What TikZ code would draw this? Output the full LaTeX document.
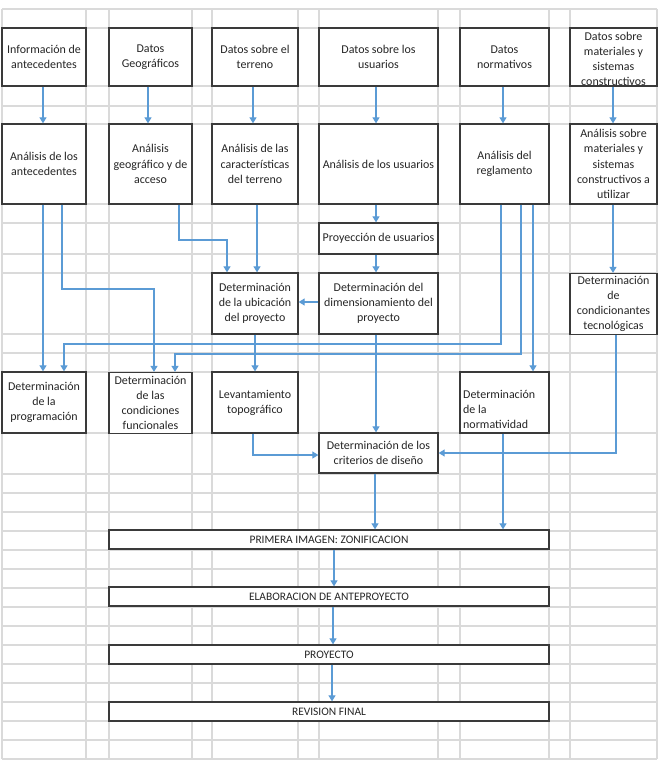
\documentclass[tikz,border=0pt]{standalone}
\usepackage{fontspec}
\setmainfont{Carlito}
\usetikzlibrary{arrows.meta}
\definecolor{gridc}{HTML}{DADADA}
\definecolor{linec}{HTML}{5B9BD5}
\definecolor{boxc}{HTML}{3A3A3A}
\definecolor{txtc}{HTML}{262626}
\begin{document}
\begin{tikzpicture}[x=1bp,y=-1bp,
  gridline/.style={draw=gridc, line width=1.1bp},
  box/.style={draw=boxc, line width=1.3bp, fill=white, inner sep=0pt, align=center, text=txtc, font=\fontsize{12}{15.2}\selectfont},
  txt/.style={inner sep=0pt, text=txtc, font=\fontsize{12}{15.2}\selectfont},
  wide/.style={box, minimum width=440bp, minimum height=19bp, font=\fontsize{11.5}{14}\selectfont},
  arr/.style={draw=linec, line width=1.2bp, -{Triangle[length=6bp,width=7bp]}}
]
\useasboundingbox (0,0) rectangle (663,768);
\fill[white] (0,0) rectangle (663,768);
% spreadsheet grid
\foreach \yy in {9,28,86,106,124,204,223,254,273,334,353,372,433,474,493,512,531,550,569,588,607,626,645,664,683,702,721,740,759}
  \draw[gridline] (2,\yy) -- (657,\yy);
\foreach \xx in {2,86,109,192,212,298,319,438,460,549,570,657}
  \draw[gridline] (\xx,9) -- (\xx,759);

% row 1
\node[box, minimum width=84bp, minimum height=58bp] (a1) at (44,57) {Información de\\antecedentes};
\node[box, minimum width=83bp, minimum height=58bp] (a2) at (150.5,57) {Datos\\Geográficos};
\node[box, minimum width=86bp, minimum height=58bp] (a3) at (255,57) {Datos sobre el\\terreno};
\node[box, minimum width=119bp, minimum height=58bp] (a4) at (378.5,57) {Datos sobre los\\usuarios};
\node[box, minimum width=89bp, minimum height=58bp] (a5) at (504.5,57) {Datos\\normativos};
\node[box, minimum width=87bp, minimum height=58bp] (a6) at (613.5,57) {};
\node[txt, align=center] (a6t) at (613.5,59) {Datos sobre\\materiales y\\sistemas\\constructivos};

% row 2
\node[box, minimum width=84bp, minimum height=80bp] (b1) at (44,164) {Análisis de los\\antecedentes};
\node[box, minimum width=83bp, minimum height=80bp] (b2) at (150.5,164) {Análisis\\geográfico y de\\acceso};
\node[box, minimum width=86bp, minimum height=80bp] (b3) at (255,164) {Análisis de las\\características\\del terreno};
\node[box, minimum width=119bp, minimum height=80bp] (b4) at (378.5,164) {Análisis de los usuarios};
\node[box, minimum width=89bp, minimum height=80bp] (b5) at (504.5,164) {Análisis del\\reglamento};
\node[box, minimum width=87bp, minimum height=80bp] (b6) at (613.5,164) {Análisis sobre\\materiales y\\sistemas\\constructivos a\\utilizar};

% middle
\node[box, minimum width=119bp, minimum height=31bp] (proy) at (378.5,238.5) {Proyección de usuarios};
\node[box, minimum width=86bp, minimum height=61bp] (ubic) at (255,303.5) {Determinación\\de la ubicación\\del proyecto};
\node[box, minimum width=119bp, minimum height=61bp] (dim) at (378.5,303.5) {Determinación del\\dimensionamiento del\\proyecto};
\node[box, minimum width=87bp, minimum height=61bp] (tec) at (613.5,304) {Determinación\\de\\condicionantes\\tecnológicas};

% row 4
\node[box, minimum width=84bp, minimum height=61bp] (prog) at (44,402.5) {Determinación\\de la\\programación};
\node[box, minimum width=83bp, minimum height=61bp] (func) at (150.5,403) {Determinación\\de las\\condiciones\\funcionales};
\node[box, minimum width=86bp, minimum height=61bp] (levant) at (255,402.5) {Levantamiento\\topográfico};
\node[box, minimum width=89bp, minimum height=61bp] (norm) at (504.5,402.5) {};
\node[txt, align=left, anchor=west] (normt) at (463,409.5) {Determinación\\de la\\normatividad};
\node[box, minimum width=119bp, minimum height=40bp] (crit) at (378.5,453) {Determinación de los\\criterios de diseño};

% bottom
\node[wide] (p1) at (329,539.5) {PRIMERA IMAGEN: ZONIFICACION};
\node[wide] (p2) at (329,596.5) {ELABORACION DE ANTEPROYECTO};
\node[wide] (p3) at (329,654.5) {PROYECTO};
\node[wide] (p4) at (329,711.5) {REVISION FINAL};

% connectors row1 -> row2
\draw[arr] (a1.south -| 43,0) -- (b1.north -| 43,0);
\draw[arr] (a2.south -| 148,0) -- (b2.north -| 148,0);
\draw[arr] (a3.south -| 253,0) -- (b3.north -| 253,0);
\draw[arr] (a4.south -| 376,0) -- (b4.north -| 376,0);
\draw[arr] (a5.south -| 503,0) -- (b5.north -| 503,0);
\draw[arr] (a6.south -| 613,0) -- (b6.north -| 613,0);

% from row 2
\draw[arr] (b1.south -| 43,0) -- (prog.north -| 43,0);
\draw[arr] (b1.south -| 62,0) -- (62,289) -| (func.north -| 154,0);
\draw[arr] (b2.south -| 179,0) -- (179,240) -| (ubic.north -| 227,0);
\draw[arr] (b3.south -| 257,0) -- (ubic.north -| 257,0);
\draw[arr] (b4.south -| 376,0) -- (proy.north -| 376,0);
\draw[arr] (proy.south -| 376,0) -- (dim.north -| 376,0);
\draw[arr] (dim.west |- 0,302) -- (ubic.east |- 0,302);
\draw[arr] (dim.south -| 376,0) -- (crit.north -| 376,0);
\draw[arr] (ubic.south -| 255,0) -- (levant.north -| 255,0);
\draw[arr] (b5.south -| 501,0) -- (501,344) -| (prog.north -| 64,0);
\draw[arr] (b5.south -| 521,0) -- (521,354) -| (func.north -| 175,0);
\draw[arr] (b5.south -| 533,0) -- (norm.north -| 533,0);
\draw[arr] (b6.south -| 613,0) -- (tec.north -| 613,0);
\draw[arr] (tec.south -| 616,0) |- (crit.east |- 0,453);
\draw[arr] (levant.south -| 253,0) |- (crit.west |- 0,455);

% to bottom chain
\draw[arr] (crit.south -| 375,0) -- (p1.north -| 375,0);
\draw[arr] (norm.south -| 503,0) -- (p1.north -| 503,0);
\draw[arr] (p1.south -| 334,0) -- (p2.north -| 334,0);
\draw[arr] (p2.south -| 333,0) -- (p3.north -| 333,0);
\draw[arr] (p3.south -| 332,0) -- (p4.north -| 332,0);
\end{tikzpicture}
\end{document}
